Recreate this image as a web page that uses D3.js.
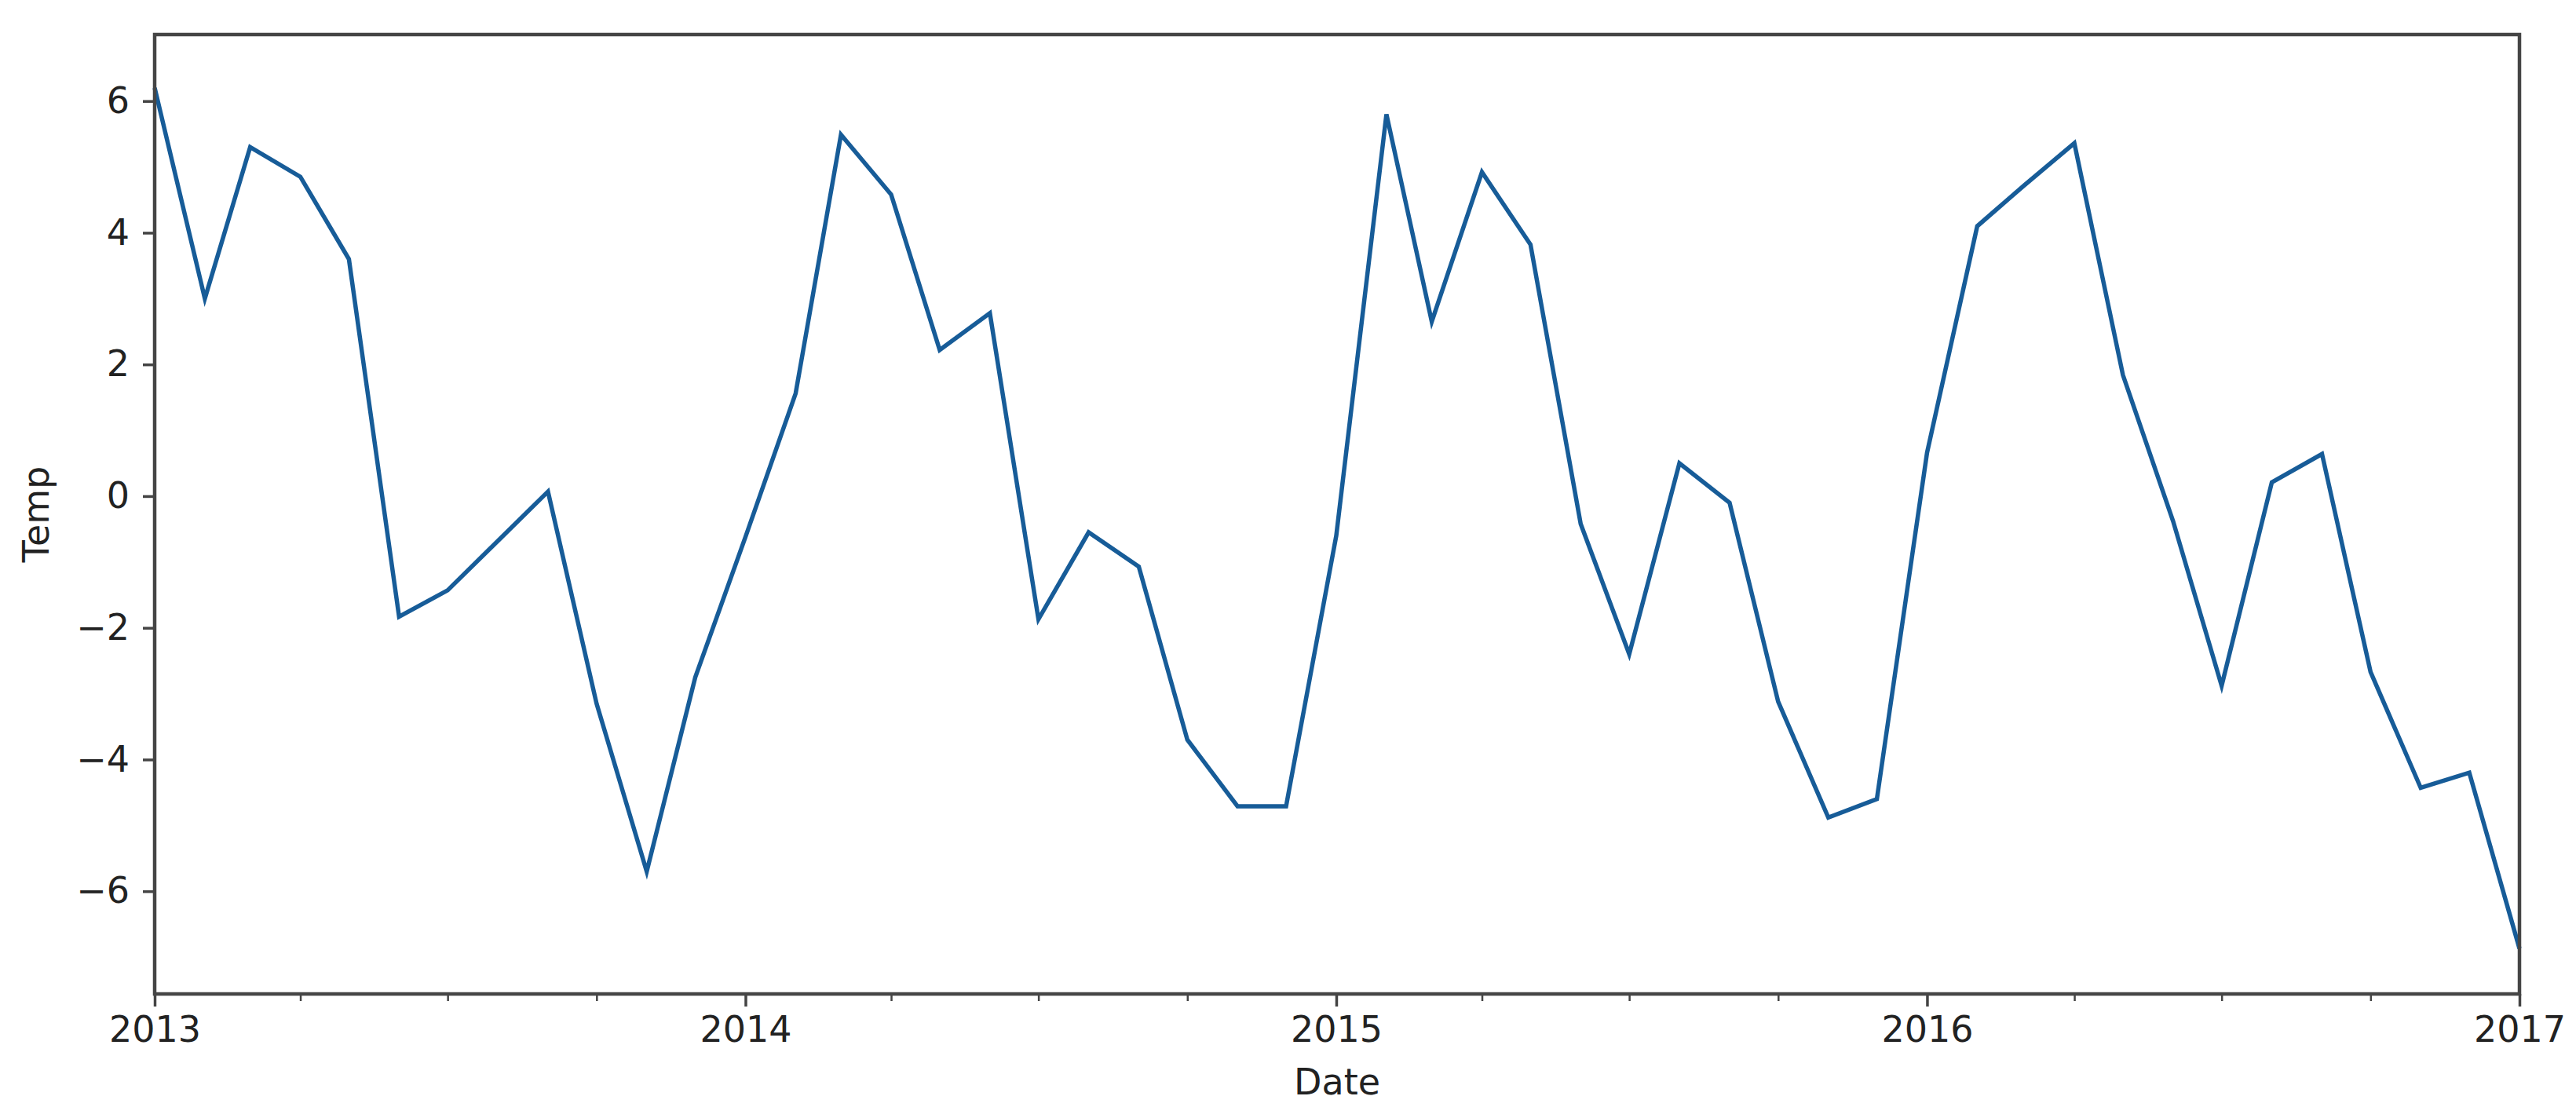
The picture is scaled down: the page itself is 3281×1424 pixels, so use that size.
<!DOCTYPE html>
<html>
<head>
<meta charset="utf-8">
<script src="https://cdn.jsdelivr.net/npm/d3@7"></script>
<style>
  html, body { margin: 0; padding: 0; background: #fff; }
  svg { display: block; }
  text { font-family: "DejaVu Sans", sans-serif; fill: #222; }
</style>
</head>
<body>
<svg id="chart" width="3281" height="1424"></svg>
<script>
// ---- data ----
const months = [
  "2013-01","2013-02","2013-03","2013-04","2013-05","2013-06","2013-07","2013-08","2013-09","2013-10","2013-11","2013-12",
  "2014-01","2014-02","2014-03","2014-04","2014-05","2014-06","2014-07","2014-08","2014-09","2014-10","2014-11","2014-12",
  "2015-01","2015-02","2015-03","2015-04","2015-05","2015-06","2015-07","2015-08","2015-09","2015-10","2015-11","2015-12",
  "2016-01","2016-02","2016-03","2016-04","2016-05","2016-06","2016-07","2016-08","2016-09","2016-10","2016-11","2016-12",
  "2017-01"
];
const temp = [
  6.2, 3.0, 5.3, 4.85, 3.6, -1.83, -1.43, -0.68, 0.07, -3.15, -5.7, -2.75,
  -0.62, 1.56, 5.49, 4.58, 2.22, 2.78, -1.87, -0.55, -1.07, -3.7, -4.71, -4.71,
  -0.6, 5.8, 2.65, 4.92, 3.82, -0.42, -2.4, 0.5, -0.1, -3.12, -4.88, -4.6,
  0.66, 4.1, 4.72, 5.36, 1.84, -0.38, -2.88, 0.21, 0.64, -2.67, -4.43, -4.2,
  -6.87
];
const yTicks = [-6, -4, -2, 0, 2, 4, 6];
const yearTicks = ["2013", "2014", "2015", "2016", "2017"];
const xLabel = "Date";
const yLabel = "Temp";

// ---- layout ----
const W = 3281, H = 1424;
const m = { left: 197, right: W - 3209, top: 44, bottom: H - 1266 };
const iw = W - m.left - m.right, ih = H - m.top - m.bottom;

const parse = d3.timeParse("%Y-%m");
const data = months.map((d, i) => ({ date: parse(d), v: temp[i] }));

const x = d3.scaleTime()
  .domain([parse("2013-01"), parse("2017-01")])
  .range([0, iw]);
const y = d3.scaleLinear().domain([-7.56, 7.01]).range([ih, 0]);

const svg = d3.select("#chart");
const g = svg.append("g").attr("transform", `translate(${m.left},${m.top})`);

// line
const line = d3.line().x(d => x(d.date)).y(d => y(d.v));
g.append("path")
  .datum(data)
  .attr("fill", "none")
  .attr("stroke", "#175c98")
  .attr("stroke-width", 5.5)
  .attr("stroke-linejoin", "miter")
  .attr("d", line);

// minor x ticks (quarterly)
const yearDates = yearTicks.map(yv => d3.timeParse("%Y")(yv));
const minorDates = d3.timeMonth.every(3).range(parse("2013-01"), parse("2017-02"))
  .filter(d => d.getMonth() !== 0);
const xMinor = g.append("g")
  .attr("transform", `translate(0,${ih})`)
  .call(d3.axisBottom(x).tickValues(minorDates).tickSize(9).tickFormat(""));
xMinor.select(".domain").remove();
xMinor.selectAll(".tick line").attr("stroke", "#444").attr("stroke-width", 2.5);

// major x ticks
const xMajor = g.append("g")
  .attr("transform", `translate(0,${ih})`)
  .call(d3.axisBottom(x).tickValues(yearDates).tickSize(16).tickPadding(12)
    .tickFormat(d3.timeFormat("%Y")));
xMajor.select(".domain").remove();
xMajor.selectAll(".tick line").attr("stroke", "#444").attr("stroke-width", 3.5);
xMajor.selectAll(".tick text").attr("font-size", 46).attr("fill", "#222")
  .attr("font-family", "DejaVu Sans, sans-serif");

// y ticks
const yAx = g.append("g")
  .call(d3.axisLeft(y).tickValues(yTicks).tickSize(15).tickPadding(17)
    .tickFormat(d => d < 0 ? "\u2212" + Math.abs(d) : String(d)));
yAx.select(".domain").remove();
yAx.selectAll(".tick line").attr("stroke", "#444").attr("stroke-width", 3.5);
yAx.selectAll(".tick text").attr("font-size", 46).attr("fill", "#222")
  .attr("font-family", "DejaVu Sans, sans-serif");

// frame
g.append("rect")
  .attr("x", 0).attr("y", 0).attr("width", iw).attr("height", ih)
  .attr("fill", "none").attr("stroke", "#454545").attr("stroke-width", 4.5);

// axis labels
svg.append("text")
  .attr("x", m.left + iw / 2).attr("y", 1394)
  .attr("text-anchor", "middle").attr("font-size", 46)
  .text(xLabel);
svg.append("text")
  .attr("transform", `translate(62,${m.top + ih / 2}) rotate(-90)`)
  .attr("text-anchor", "middle").attr("font-size", 46)
  .text(yLabel);
</script>
</body>
</html>
